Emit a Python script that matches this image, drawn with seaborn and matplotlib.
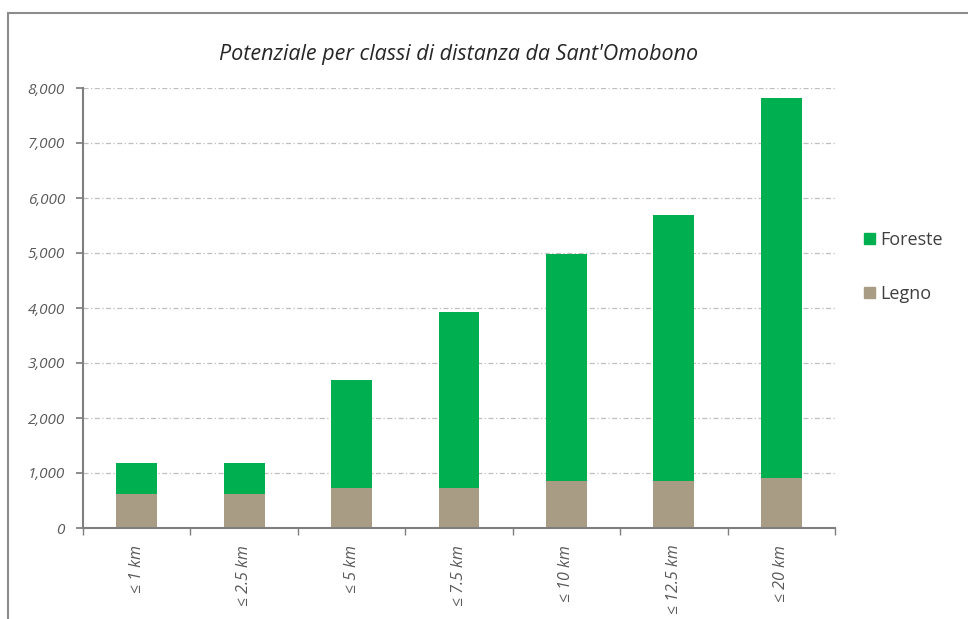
import matplotlib
matplotlib.use('Agg')
import matplotlib.pyplot as plt
import seaborn as sns
import pandas as pd
from matplotlib.patches import Rectangle, Patch
from matplotlib.ticker import FuncFormatter

# values
categories = ['≤ 1 km', '≤ 2.5 km', '≤ 5 km', '≤ 7.5 km', '≤ 10 km', '≤ 12.5 km', '≤ 20 km']
legno = [620, 620, 730, 730, 860, 860, 910]
foreste = [560, 560, 1970, 3200, 4120, 4840, 6910]
totale = [l + f for l, f in zip(legno, foreste)]

df = pd.DataFrame({'classe': categories, 'Legno': legno, 'Foreste': foreste, 'Totale': totale})

sns.set_theme(style='white')
plt.rcParams['font.family'] = ['Open Sans', 'DejaVu Sans']

green = '#00B050'
tan = '#A99C84'
text_col = '#595959'

fig = plt.figure(figsize=(9.68, 6.19), dpi=100)
fig.patches.append(Rectangle((8 / 968, -0.1), 1.1, 1 - 13 / 619 + 0.1, transform=fig.transFigure,
                             fill=False, edgecolor='#8C8C8C', linewidth=1.5))
ax = fig.add_axes([83 / 968, 1 - 528 / 619, (835 - 83) / 968, (528 - 88) / 619])

# stacked: total in green, legno drawn over it
sns.barplot(data=df, x='classe', y='Totale', color=green, width=0.38, saturation=1,
            linewidth=0, ax=ax)
sns.barplot(data=df, x='classe', y='Legno', color=tan, width=0.38, saturation=1,
            linewidth=0, ax=ax)

ax.set_ylim(0, 8000)
ax.set_xlim(-0.5, len(categories) - 0.5)
ax.set_yticks(range(0, 8001, 1000))
ax.yaxis.set_major_formatter(FuncFormatter(lambda v, p: f'{int(v):,}'))
for y in range(1000, 8001, 1000):
    ax.axhline(y, color='#BFBFBF', linewidth=0.9, linestyle=(0, (4, 2, 1, 2)), zorder=0)

ax.set_xlabel('')
ax.set_ylabel('')
ax.set_title("Potenziale per classi di distanza da Sant'Omobono", fontsize=15.5, style='italic',
             color='#262626', pad=20)

for s in ['top', 'right']:
    ax.spines[s].set_visible(False)
for s in ['left', 'bottom']:
    ax.spines[s].set_color('#7F7F7F')
    ax.spines[s].set_linewidth(1.5)

ax.tick_params(axis='y', which='both', left=True, length=5, color='#7F7F7F', labelsize=11,
               labelcolor=text_col, pad=8)
ax.set_xticks(range(len(categories)))
ax.set_xticklabels(categories, rotation=90)
ax.set_xticks([i + 0.5 for i in range(-1, len(categories))], minor=True)
ax.tick_params(axis='x', which='major', bottom=False, labelsize=11.5, labelcolor=text_col, pad=6)
ax.tick_params(axis='x', which='minor', bottom=True, length=5, color='#7F7F7F', width=1)
for lab in ax.get_xticklabels() + ax.get_yticklabels():
    lab.set_style('italic')

handles = [Patch(color=green, label='Foreste'), Patch(color=tan, label='Legno')]
fig.legend(handles=handles, loc='center left', bbox_to_anchor=(848 / 968, 1 - 267 / 619),
           frameon=False, fontsize=13, labelspacing=2.0, handlelength=0.6, handleheight=0.6,
           handletextpad=0.3, labelcolor='#404040')

fig.savefig('out.png', dpi=100)
